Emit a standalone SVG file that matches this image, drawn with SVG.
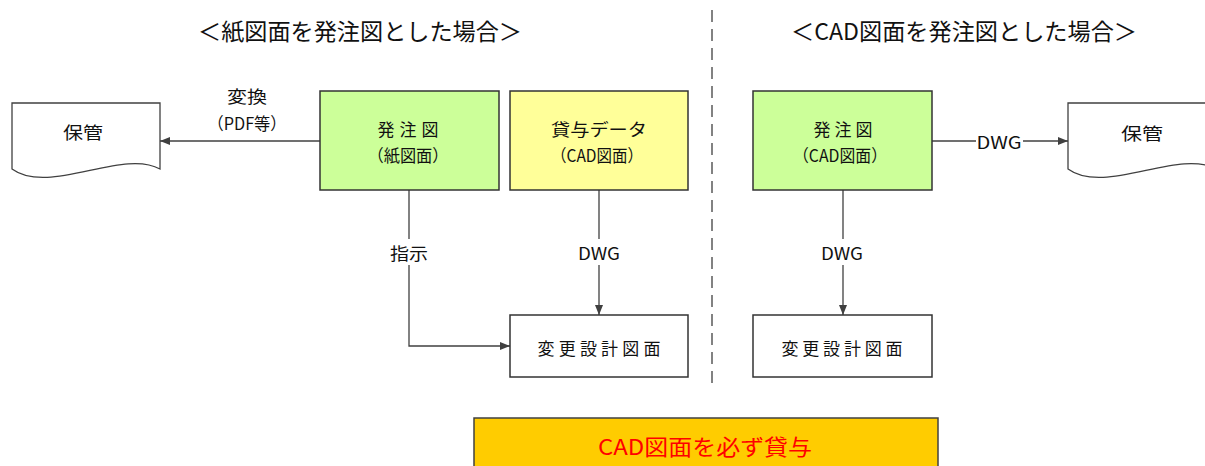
<svg xmlns="http://www.w3.org/2000/svg" width="1205" height="466" viewBox="0 0 1205 466">
<defs>
<marker id="arr" markerWidth="10" markerHeight="8" refX="10" refY="4" orient="auto" markerUnits="userSpaceOnUse">
<path d="M0,0 L10,4 L0,8 z" fill="#404040"/>
</marker>
<style>
text{font-family:"Noto Sans CJK JP","Noto Sans",sans-serif;fill:#111;text-anchor:middle;dominant-baseline:central}
.t{font-size:17px}
.title{font-size:23px}
.doc{fill:#fff;stroke:#404040;stroke-width:1.3}
.box{stroke:#333;stroke-width:1.5}
.conn{fill:none;stroke:#404040;stroke-width:1.3;marker-end:url(#arr)}
.lbg{fill:#fff}
</style>
</defs>
<rect width="1205" height="466" fill="#fff"/>

<g id="titles">
<text class="title" x="360" y="30" textLength="324" lengthAdjust="spacingAndGlyphs">＜紙図面を発注図とした場合＞</text>
<text class="title" x="964" y="30" textLength="346" lengthAdjust="spacingAndGlyphs">＜CAD図面を発注図とした場合＞</text>
</g>

<line id="divider" x1="712" y1="10" x2="712" y2="390" stroke="#595959" stroke-width="1.5" stroke-dasharray="12,7"/>

<g id="connectors">
<path class="conn" d="M320,141 H160"/>
<path class="conn" d="M409,190 V346 H510"/>
<path class="conn" d="M599,190 V315"/>
<path class="conn" d="M932,141 H1068"/>
<path class="conn" d="M843,190 V315"/>
<rect class="lbg" x="387" y="239" width="44" height="26"/>
<text class="t" x="409" y="252" textLength="38" lengthAdjust="spacingAndGlyphs">指示</text>
<rect class="lbg" x="575" y="239" width="48" height="26"/>
<text class="t" x="599" y="252" textLength="42" lengthAdjust="spacingAndGlyphs">DWG</text>
<rect class="lbg" x="819" y="239" width="48" height="26"/>
<text class="t" x="842" y="252" textLength="42" lengthAdjust="spacingAndGlyphs">DWG</text>
<rect class="lbg" x="976" y="130" width="47" height="22"/>
<text class="t" x="999" y="141" textLength="45" lengthAdjust="spacingAndGlyphs">DWG</text>
<text class="t" x="247" y="95" textLength="40" lengthAdjust="spacingAndGlyphs">変換</text>
<text class="t" x="247" y="122" textLength="79" lengthAdjust="spacingAndGlyphs">（PDF等）</text>
</g>

<g id="store-left">
<path class="doc" d="M12,103 H160 V169 C123,148 49,196 12,169 Z"/>
<text class="t" x="83" y="131" textLength="40" lengthAdjust="spacingAndGlyphs">保管</text>
</g>

<g id="order-paper">
<rect class="box" x="320" y="91" width="179" height="99" fill="#ccff99"/>
<text class="t" x="408" y="128" textLength="61" lengthAdjust="spacing">発注図</text>
<text class="t" x="408" y="154" textLength="81" lengthAdjust="spacingAndGlyphs">（紙図面）</text>
</g>

<g id="lend-data">
<rect class="box" x="510" y="91" width="178" height="99" fill="#ffff99" stroke="#666"/>
<text class="t" x="599" y="128" textLength="96" lengthAdjust="spacingAndGlyphs">貸与データ</text>
<text class="t" x="597" y="154" textLength="92" lengthAdjust="spacingAndGlyphs">（CAD図面）</text>
</g>

<g id="change-left">
<rect class="box" x="510" y="315" width="178" height="62" fill="#fff" stroke="#404040"/>
<text class="t" x="599" y="347" textLength="123" lengthAdjust="spacing">変更設計図面</text>
</g>

<g id="order-cad">
<rect class="box" x="753" y="91" width="179" height="99" fill="#ccff99" stroke="#555"/>
<text class="t" x="843" y="128" textLength="59" lengthAdjust="spacing">発注図</text>
<text class="t" x="840" y="154" textLength="94" lengthAdjust="spacingAndGlyphs">（CAD図面）</text>
</g>

<g id="store-right">
<path class="doc" d="M1068,103 H1216 V169 C1179,148 1105,196 1068,169 Z"/>
<text class="t" x="1142" y="132" textLength="42" lengthAdjust="spacingAndGlyphs">保管</text>
</g>

<g id="change-right">
<rect class="box" x="753" y="315" width="179" height="62" fill="#fff" stroke="#404040"/>
<text class="t" x="842" y="347" textLength="121" lengthAdjust="spacing">変更設計図面</text>
</g>

<g id="note">
<rect x="474" y="418" width="464" height="60" fill="#ffcc00" stroke="#404040" stroke-width="1.5"/>
<text x="705" y="445" style="font-size:22px;fill:#ff0000" textLength="214" lengthAdjust="spacingAndGlyphs">CAD図面を必ず貸与</text>
</g>
</svg>
